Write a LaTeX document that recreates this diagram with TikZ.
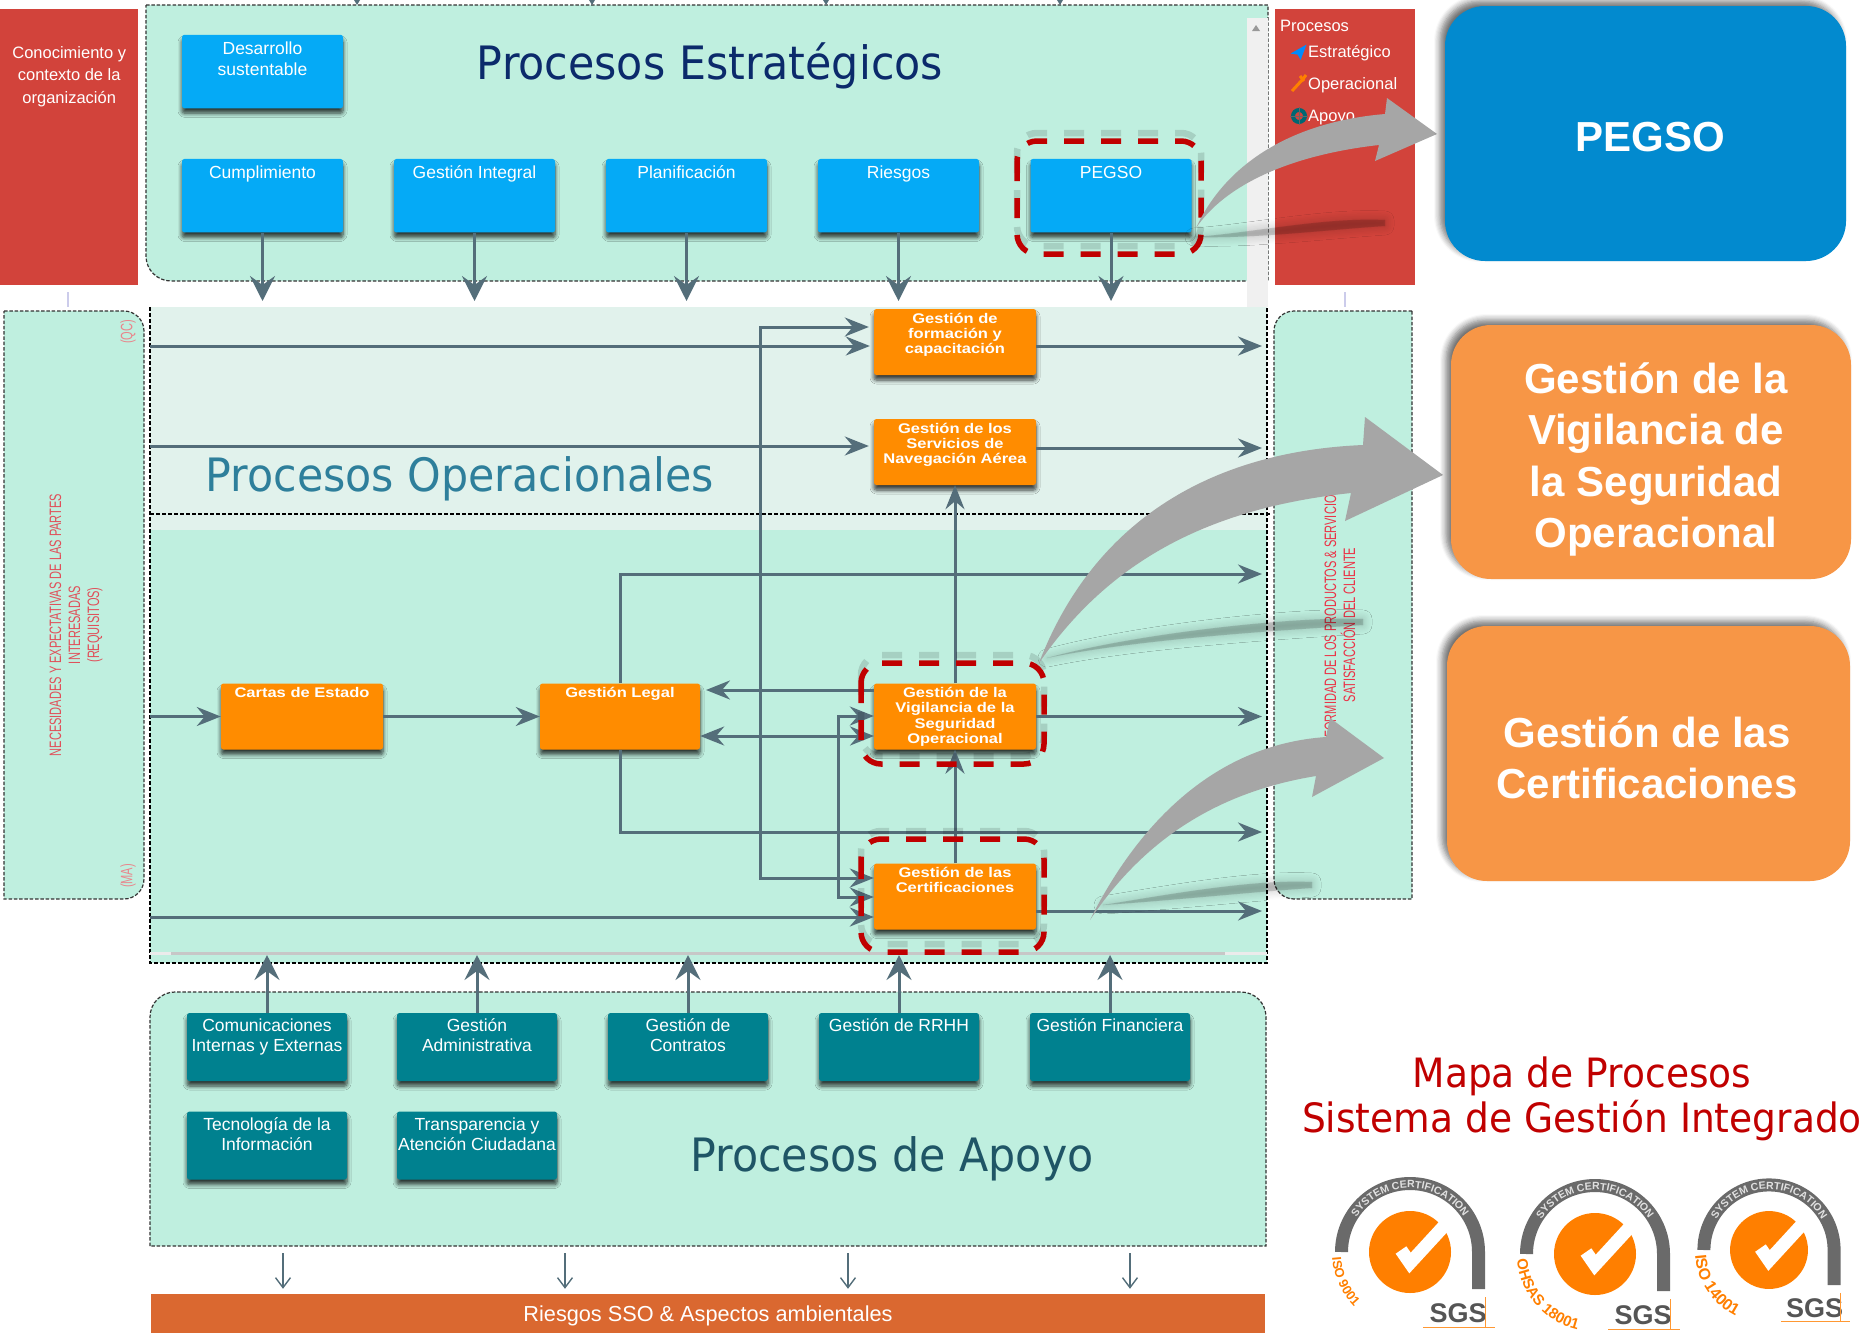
\documentclass[tikz,border=0pt]{standalone}
\usepackage{fontspec}
\setmainfont{Liberation Sans}
\newfontfamily\narrowfont[FakeStretch=0.67]{Liberation Sans}
\newfontfamily\widefont[FakeStretch=1.18]{Liberation Sans}
\newfontfamily\titlefont[FakeStretch=0.93]{DejaVu Sans}
\usetikzlibrary{arrows.meta,shadows,shadows.blur,decorations.text}

\definecolor{panelgreen}{HTML}{BFEFDF}
\definecolor{palegreen}{HTML}{E1F2EC}
\definecolor{boxblue}{HTML}{05AAF6}
\definecolor{boxteal}{HTML}{00818F}
\definecolor{boxorange}{HTML}{FF8C00}
\definecolor{flowgrey}{HTML}{546E7A}
\definecolor{panelred}{HTML}{D2433B}
\definecolor{framered}{HTML}{C00000}
\definecolor{barorange}{HTML}{DA6830}
\definecolor{bigblue}{HTML}{028ACF}
\definecolor{bigorange}{HTML}{F79646}
\definecolor{bigarrow}{HTML}{A6A6A6}
\definecolor{sidetext}{HTML}{E0505A}
\definecolor{archgrey}{HTML}{6A6A6A}
\definecolor{sealorange}{HTML}{FF7F00}
\definecolor{titlenavy}{HTML}{0B2A6B}
\definecolor{titleteal}{HTML}{2E7F9B}
\definecolor{titledark}{HTML}{1F5566}

\tikzset{
	boxlabel/.style={anchor=north,align=center,text=white,inner xsep=0pt},
	toptext/.style={label={[boxlabel,inner ysep=7pt,font=\fontsize{17.5}{21.4}\selectfont]north:{#1}}},
	tealtext/.style={label={[boxlabel,inner ysep=6pt,font=\fontsize{17.5}{20}\selectfont]north:{#1}}},
	orangetext/.style={label={[boxlabel,inner ysep=4pt,font=\widefont\bfseries\fontsize{14}{15.2}\selectfont]north:{#1}}},
	bigword/.style={text=white,align=center,inner sep=0pt,font=\bfseries\fontsize{42}{51.5}\selectfont},
	procbox/.style={rectangle,rounded corners=2.5pt,inner sep=0pt,minimum height=#1,
		blur shadow={shadow xshift=0pt,shadow yshift=-5pt,shadow blur radius=4pt,shadow blur steps=6,shadow opacity=75}},
	bluebox/.style={procbox=73.5pt,fill=boxblue,minimum width=161pt},
	tealbox/.style={procbox=68pt,fill=boxteal,minimum width=160pt},
	orangebox/.style={procbox=66pt,fill=boxorange,minimum width=162pt},
	bigbox/.style={rectangle,rounded corners=40pt,inner sep=0pt,
		blur shadow={shadow xshift=-5pt,shadow yshift=5pt,shadow blur radius=6pt,shadow blur steps=6,shadow opacity=55}},
	panel/.style={fill=panelgreen,draw=black!80,line width=1.2pt,dash pattern=on 3.5pt off 1.8pt},
	dashline/.style={draw=black,line width=1.2pt,dash pattern=on 4pt off 2pt},
	flow/.style={draw=flowgrey,line width=3pt,>={Stealth[length=24pt,width=19pt,inset=8pt]}},
	flowv/.style={draw=flowgrey,line width=3pt,>={Stealth[length=25pt,width=25pt,inset=9pt]}},
	thinflow/.style={draw=flowgrey,line width=1.4pt,-{Straight Barb[length=10pt,width=15pt]},shorten >=5pt},
	redframe/.style={draw=framered,line width=5.5pt,rounded corners=20pt,dash pattern=on 20pt off 17pt},
	redshade/.style={draw=black,opacity=.13,line width=6.5pt,rounded corners=20pt,dash pattern=on 20pt off 17pt,shift={(0,-8)}},
	title/.style={font=\titlefont\fontsize{46}{52}\selectfont},
	sidelabel/.style={font=\narrowfont\fontsize{16.5}{19}\selectfont,rotate=90,align=center},
	legend/.style={anchor=west,text=white,inner sep=0pt,font=\fontsize{16.5}{19}\selectfont}
}

% grey smear under the big arrows
\def\arrowsmear(#1,#2)(#3,#4){
	\path[fill=black,fill opacity=.16,blur shadow={shadow xshift=0pt,shadow yshift=0pt,shadow blur radius=9pt,shadow blur steps=8,shadow opacity=22}]
		(#1,#2) .. controls ({#1+.3*(#3-#1)},{#4+10}) and ({#3-60},{#4-6}) .. (#3,{#4-3})
		-- (#3,{#4+3}) .. controls ({#3-60},{#4+7}) and ({#1+.3*(#3-#1)},{#4+16}) .. (#1,#2) -- cycle;
}

% certification seal: centre, scale, prefix, norm, size of its letters
\def\sgsseal(#1,#2)#3#4#5#6{
	\begin{scope}[shift={(#1,#2)},x=1pt,y=1pt,scale=#3,name prefix=#4-]
		\draw[archgrey,line width=13pt] (-68.5,0) arc (180:0:68.5) -- (68.5,-37);
		\fill[sealorange] (0,0) circle (41);
		\draw[white,line width=13pt] (-9,2) -- (0,-11) -- (34,26);
		\path[decorate,decoration={text along path,text align=center,
			text={|\bfseries\fontsize{10.5}{12}\selectfont\color{black!12}|SYSTEM CERTIFICATION}}]
			({64*cos(165)},{64*sin(165)}) arc (165:15:64);
		\path[decorate,decoration={text along path,text align=left,
			text={|\bfseries\fontsize{#6}{16}\selectfont\color{sealorange}|#5}}]
			({78*cos(184)},{78*sin(184)}) arc (184:285:78);
		\node[inner sep=0pt,text=archgrey!80!black,font=\bfseries\fontsize{27}{30}\selectfont] (sgs) at (48,-61) {SGS};
		\draw[sealorange!80,line width=.8pt] (13,-75) -- (85,-75) (75.5,-45) -- (75.5,-75);
	\end{scope}
}

\begin{document}
\begin{tikzpicture}[x=1pt,y=-1pt]
	\useasboundingbox (0,0) rectangle (1864,1333);

	% panels
	\fill[palegreen] (150,307) rectangle (1267,530);
	\fill[panelgreen] (150,530) rectangle (1267,963);
	\draw[dashline] (150,307) -- (150,963) -- (1267,963) -- (1267,307);
	\draw[dashline] (150,514) -- (1270,514);
	\draw[line width=3pt,black!8] (150,953) -- (1267,953);
	\draw[line width=3pt,black!22] (171,953) -- (1225,953);

	\draw[panel] (146,5) -- (1268,5) -- (1268,281) [rounded corners=25pt] -- (146,281) [sharp corners] -- cycle;
	\fill[black!6] (1247,18) rectangle (1268,307);
	\fill[black!40] (1252,31) -- (1260,31) -- (1256,25) -- cycle;
	\draw[panel] (4,311) [rounded corners=20pt] -- (144,311) -- (144,899) [sharp corners] -- (4,899) -- cycle;
	\draw[panel] (1412,311) [rounded corners=20pt] -- (1274,311) -- (1274,899) [sharp corners] -- (1412,899) -- cycle;
	\draw[panel] (150,1246) [rounded corners=25pt] -- (150,992) -- (1266,992) [sharp corners] -- (1266,1246) -- cycle;

	\fill[flowgrey] (354,0) -- (360,0) -- (357,5) -- cycle;
	\fill[flowgrey] (589,0) -- (595,0) -- (592,5) -- cycle;
	\fill[flowgrey] (823,0) -- (829,0) -- (826,5) -- cycle;
	\fill[flowgrey] (1057,0) -- (1063,0) -- (1060,5) -- cycle;
	\draw[line width=2pt,blue!60!black!20] (68,292) -- (68,307);
	\draw[line width=2pt,blue!60!black!20] (1345,292) -- (1345,307);

	% red side boxes
	\node[fill=panelred,minimum width=138.5pt,minimum height=275.5pt,inner sep=0pt,
		label={[boxlabel,inner ysep=37pt,font=\fontsize{16.5}{22.5}\selectfont]north:{Conocimiento y\\contexto de la\\organización}}] (conocimiento) at (69.2,146.8) {};
	\node[fill=panelred,minimum width=140.5pt,minimum height=275.5pt,inner sep=0pt] (leyenda) at (1345,146.8) {};
	\node[legend] (procesos) at (1280,26) {Procesos};
	\node[legend] (estrategico) at (1308,53) {Estratégico};
	\node[legend] (operacional) at (1308,85) {Operacional};
	\node[legend] (apoyo) at (1308,118) {Apoyo};
	\fill[blue!45!cyan] (1306.5,44.6) -- (1290.5,53.6) -- (1297.7,54.6) -- (1300.6,60) -- cycle;
	\draw[orange,line width=3pt] (1292,91) -- (1303,79) -- (1306,75);
	\draw[orange,line width=3pt] (1300,76) -- (1304,81);
	\draw[boxteal!80!black,line width=4pt] (1299,116) circle (6);
	\draw[black!60,line width=1pt] (1299,107) -- (1299,125) (1290,116) -- (1308,116);

	% side texts
	\node[sidelabel,text=sidetext] (necesidades) at (76,625) {NECESIDADES Y EXPECTATIVAS DE LAS PARTES\\INTERESADAS\\(REQUISITOS)};
	\node[sidelabel,text=sidetext!70] (qc) at (128,332) {(QC)};
	\node[sidelabel,text=sidetext!70] (ma) at (128,876) {(MA)};
	\node[sidelabel,text=red!60!purple!80] (conformidad) at (1340,625) {CONFORMIDAD DE LOS PRODUCTOS \& SERVICIOS\\SATISFACCIÓN DEL CLIENTE};

	% titles
	\node[title,text=titlenavy] (tituloest) at (710,66) {Procesos Estratégicos};
	\node[title,text=titleteal] (tituloope) at (460,479) {Procesos Operacionales};
	\node[title,text=titledark] (tituloapo) at (892,1159) {Procesos de Apoyo};
	\node[text=framered,align=center,font=\titlefont\fontsize{40.4}{45}\selectfont] (mapa) at (1582,1099) {Mapa de Procesos\\Sistema de Gestión Integrado};

	% strategic boxes
	\node[bluebox,toptext={Desarrollo\\sustentable}] (desarrollo) at (262.5,71.5) {};
	\node[bluebox,toptext={Cumplimiento}] (cumplimiento) at (262.5,195.7) {};
	\node[bluebox,toptext={Gestión Integral}] (integral) at (474.5,195.7) {};
	\node[bluebox,toptext={Planificación}] (planificacion) at (686.5,195.7) {};
	\node[bluebox,toptext={Riesgos}] (riesgos) at (898.5,195.7) {};
	\node[bluebox,toptext={PEGSO}] (pegso) at (1111,195.7) {};

	% operational boxes
	\node[orangebox,orangetext={Gestión de\\formación y\\capacitación}] (formacion) at (955,342) {};
	\node[orangebox,orangetext={Gestión de los\\Servicios de\\Navegación Aérea}] (servicios) at (955,452) {};
	\node[orangebox,orangetext={Cartas de Estado}] (cartas) at (302,716.5) {};
	\node[orangebox,minimum width=160pt,orangetext={Gestión Legal}] (legal) at (620,716.5) {};
	\node[orangebox,orangetext={Gestión de la\\Vigilancia de la\\Seguridad\\Operacional}] (vigilancia) at (955,716.5) {};
	\node[orangebox,orangetext={Gestión de las\\Certificaciones}] (certificaciones) at (955,896.5) {};

	% support boxes
	\node[tealbox,tealtext={Comunicaciones\\Internas y Externas}] (comunicaciones) at (267,1047) {};
	\node[tealbox,tealtext={Gestión\\Administrativa}] (administrativa) at (477,1047) {};
	\node[tealbox,tealtext={Gestión de\\Contratos}] (contratos) at (688,1047) {};
	\node[tealbox,tealtext={Gestión de RRHH}] (rrhh) at (899,1047) {};
	\node[tealbox,tealtext={Gestión Financiera}] (financiera) at (1110,1047) {};
	\node[tealbox,tealtext={Tecnología de la\\Información}] (tecnologia) at (267,1145.5) {};
	\node[tealbox,tealtext={Transparencia y\\Atención Ciudadana}] (transparencia) at (477,1145.5) {};

	\node[fill=barorange,minimum width=1114pt,minimum height=39pt,inner sep=0pt,text=white,font=\fontsize{21.7}{24}\selectfont] (sso) at (708,1313.5) {\raisebox{-8pt}[0pt][0pt]{Riesgos SSO \& Aspectos ambientales}};

	% ends of the connectors
	\coordinate (estraend) at (0,301);
	\coordinate (apoyoend) at (0,955);
	\coordinate (opin) at (150,0);
	\coordinate (opout) at (1262,0);
	\coordinate (inform) at (150,346);
	\coordinate (outform) at (1262,346);
	\coordinate (inserv) at (150,446);
	\coordinate (outserv) at (1262,448);
	\coordinate (incert) at (150,917);
	\coordinate (outcert) at (1262,911);
	\coordinate (busa) at (760,327);
	\coordinate (busb) at (760,878);
	\coordinate (busc) at (838,716);
	\coordinate (busd) at (838,897);
	\coordinate (legalup) at (620,574);
	\coordinate (legaldown) at (620,832);
	\coordinate (vigout) at (874,690);
	\coordinate (legalin) at (706,690);
	\coordinate (vigback) at (874,736);

	% strategic down
	\draw[flowv,->] (cumplimiento.south) -- (cumplimiento.south |- estraend);
	\draw[flowv,->] (integral.south) -- (integral.south |- estraend);
	\draw[flowv,->] (planificacion.south) -- (planificacion.south |- estraend);
	\draw[flowv,->] (riesgos.south) -- (riesgos.south |- estraend);
	\draw[flowv,->] (pegso.south) -- (pegso.south |- estraend);

	% support up
	\draw[flowv,->] (comunicaciones.north) -- (comunicaciones.north |- apoyoend);
	\draw[flowv,->] (administrativa.north) -- (administrativa.north |- apoyoend);
	\draw[flowv,->] (contratos.north) -- (contratos.north |- apoyoend);
	\draw[flowv,->] (rrhh.north) -- (rrhh.north |- apoyoend);
	\draw[flowv,->] (financiera.north) -- (financiera.north |- apoyoend);

	% operational flows
	\draw[flow,->,shorten >=4pt] (inform) -- (inform -| formacion.west);
	\draw[flow,->,shorten >=5pt] (inserv) -- (inserv -| servicios.west);
	\draw[flow,->] (opin |- cartas) -- (cartas.west);
	\draw[flow,->] (cartas.east) -- (legal.west);
	\draw[flow,->] (incert) -- (incert -| certificaciones.west);
	\draw[flow,<->,shorten <=5pt] (busa -| formacion.west) -- (busa) -- (busb) -- (busb -| certificaciones.west);
	\draw[flow,<->] (busc -| vigilancia.west) -- (busc) -- (busd) -- (busd -| certificaciones.west);
	\draw[flow,->] (legal.north) -- (legalup) -- (legalup -| opout);
	\draw[flow,->] (legal.south) -- (legaldown) -- (legaldown -| opout);
	\draw[flow,->] (vigout) -- (legalin);
	\draw[flow,<->] (vigback -| legal.east) -- (vigback);
	\draw[flow,->] (vigilancia.north) -- (servicios.south);
	\draw[flow,->] (certificaciones.north) -- (vigilancia.south);
	\draw[flow,->] (formacion.east |- outform) -- (outform);
	\draw[flow,->] (servicios.east |- outserv) -- (outserv);
	\draw[flow,->] (vigilancia.east) -- (vigilancia.east -| opout);
	\draw[flow,->] (certificaciones.east |- outcert) -- (outcert);

	% risks
	\coordinate (riesgoa) at (283,1253);
	\coordinate (riesgob) at (565,1253);
	\coordinate (riesgoc) at (848,1253);
	\coordinate (riesgod) at (1130,1253);
	\draw[thinflow] (riesgoa) -- (riesgoa |- sso.north);
	\draw[thinflow] (riesgob) -- (riesgob |- sso.north);
	\draw[thinflow] (riesgoc) -- (riesgoc |- sso.north);
	\draw[thinflow] (riesgod) -- (riesgod |- sso.north);

	% red frames
	\draw[redshade] (1017,141) rectangle (1201,254);
	\draw[redshade] (861,663) rectangle (1044,764);
	\draw[redshade] (861,839) rectangle (1044,952);
	\draw[redframe] (1017,141) rectangle (1201,254);
	\draw[redframe] (861,663) rectangle (1044,764);
	\draw[redframe] (861,839) rectangle (1044,952);

	% big arrows
	\arrowsmear(1194,237)(1385,223)
	\arrowsmear(1047,658)(1363,622)
	\arrowsmear(1103,905)(1312,885)
	\fill[bigarrow] (1196,228) .. controls (1225,165) and (1290,122) .. (1385,114) -- (1387,98) -- (1437,134) -- (1375,161) -- (1379,145) .. controls (1290,155) and (1225,185) .. (1196,228);
	\fill[bigarrow] (1039,663) .. controls (1090,530) and (1200,452) .. (1363,445) -- (1365,417) -- (1443,475) -- (1345,521) -- (1351,493) .. controls (1210,508) and (1110,560) .. (1039,663);
	\fill[bigarrow] (1090,920) .. controls (1135,830) and (1210,745) .. (1326,737) -- (1330,718) -- (1384,758) -- (1312,797) -- (1316,776) .. controls (1230,790) and (1150,830) .. (1090,920);

	% big boxes
	\node[bigbox,fill=bigblue,minimum width=401pt,minimum height=255pt] (bigpegso) at (1645.5,133.5) {};
	\node[bigbox,fill=bigorange,minimum width=400pt,minimum height=254pt] (bigvigilancia) at (1651,452) {};
	\node[bigbox,fill=bigorange,minimum width=403pt,minimum height=255pt] (bigcertificaciones) at (1648.5,753.5) {};
	\node[bigword] (wordpegso) at (1650,137) {PEGSO};
	\node[bigword] (wordvigilancia) at (1656,459.5) {Gestión de la\\Vigilancia de\\la Seguridad\\Operacional};
	\node[bigword] (wordcertificaciones) at (1647,758) {Gestión de las\\Certificaciones};

	% seals
	\sgsseal(1410,1252){1}{isoa}{ISO 9001}{13}
	\sgsseal(1595,1254){1}{isob}{OHSAS 18001}{15}
	\sgsseal(1769,1250){.95}{isoc}{ISO 14001}{16}
\end{tikzpicture}
\end{document}
